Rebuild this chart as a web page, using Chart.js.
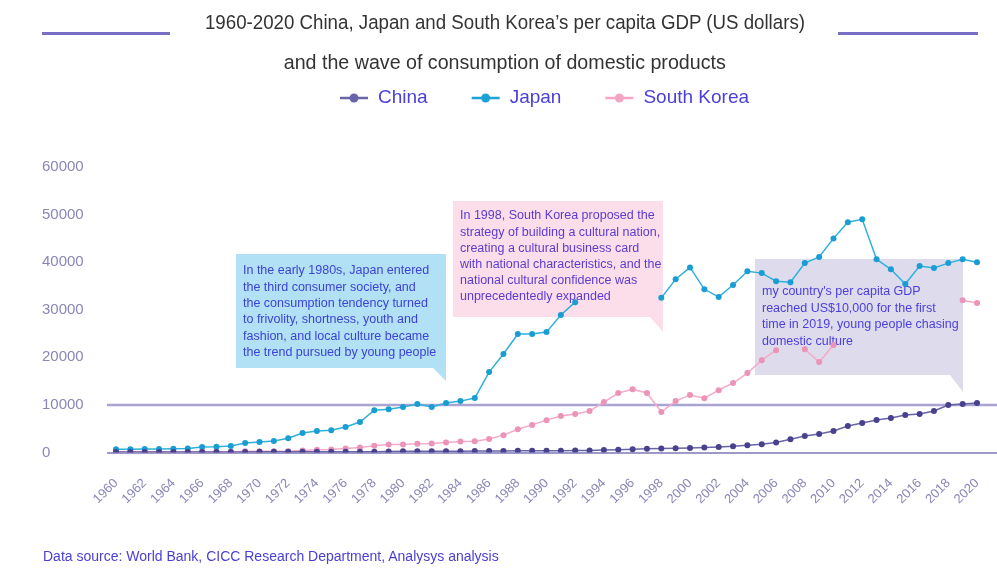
<!DOCTYPE html>
<html>
<head>
<meta charset="utf-8">
<script src="https://cdn.jsdelivr.net/npm/chart.js@4.4.0/dist/chart.umd.min.js"></script>
<style>
body{margin:0;background:#fff;}
#page{position:relative;width:997px;height:577px;overflow:hidden;background:#fff;}
#gdpChart{position:absolute;left:0;top:0;}
.title{position:absolute;left:0;width:1010px;text-align:center;color:#333;
  font-family:"Liberation Sans",Arial,sans-serif;font-size:20.5px;}
.title span{display:inline-block;white-space:nowrap;transform-origin:50% 50%;}
.bar{position:absolute;top:32px;height:3px;background:#7a6fc6;}
#source{position:absolute;left:43px;top:548px;color:#4a3fd4;font-family:"Liberation Sans",Arial,sans-serif;font-size:14px;}
</style>
</head>
<body>
<div id="page">
  <canvas id="gdpChart" width="997" height="577"></canvas>
  <div class="bar" style="left:42px;width:128px"></div>
  <div class="bar" style="left:838px;width:140px"></div>
  <div class="title" style="top:10px"><span data-w="600">1960-2020 China, Japan and South Korea’s per capita GDP (US dollars)</span></div>
  <div class="title" style="top:50px"><span data-w="442">and the wave of consumption of domestic products</span></div>
  <div id="source">Data source: World Bank, CICC Research Department, Analysys analysis</div>
</div>
<script>
// per capita GDP, US dollars (null = hidden behind a note box)
const years = ['1960','1961','1962','1963','1964','1965','1966','1967','1968','1969',
  '1970','1971','1972','1973','1974','1975','1976','1977','1978','1979',
  '1980','1981','1982','1983','1984','1985','1986','1987','1988','1989',
  '1990','1991','1992','1993','1994','1995','1996','1997','1998','1999',
  '2000','2001','2002','2003','2004','2005','2006','2007','2008','2009',
  '2010','2011','2012','2013','2014','2015','2016','2017','2018','2019','2020']

const china = [100,100,100,100,100,100,100,100,100,100,
  150,150,150,150,150,150,150,150,150,200,
  250,250,250,250,250,300,300,300,350,350,
  350,350,400,400,500,600,700,780,830,870,
  960,1050,1150,1290,1500,1750,2100,2800,3470,3890,
  4520,5570,6200,6830,7250,7880,8090,8720,9980,10190,10400]

const japan = [700,700,750,750,800,850,1150,1200,1350,2000,
  2200,2400,3000,4100,4500,4700,5350,6400,8900,9100,
  9550,10200,9550,10400,10800,11450,16900,20700,24900,24900,
  25300,28900,31600,null,null,null,null,null,32500,36400,
  38900,34300,32700,35200,38100,37700,36000,35800,39800,41100,
  45000,48400,49000,40600,38500,35400,39200,38800,39800,40600,40000]

const korea = [150,150,150,150,150,150,150,150,150,250,
  250,250,250,400,560,620,830,1050,1400,1700,
  1700,1850,1900,2100,2300,2350,2850,3650,4900,5800,
  6800,7650,8100,8700,10600,12500,13300,12500,8500,10800,
  12100,11400,13100,14600,16700,19400,21500,null,21700,19000,
  22600,null,null,null,null,null,null,null,null,32000,31400]

const yTicks = [0,10000,20000,30000,40000,50000,60000]

const noteJapan = ['In the early 1980s, Japan entered','the third consumer society, and',
  'the consumption tendency turned','to frivolity, shortness, youth and',
  'fashion, and local culture became','the trend pursued by young people']
const noteKorea = ['In 1998, South Korea proposed the','strategy of building a cultural nation,',
  'creating a cultural business card','with national characteristics, and the',
  'national cultural confidence was','unprecedentedly expanded']
const noteChina = ["my country's per capita GDP",'reached US$10,000 for the first',
  'time in 2019, young people chasing','domestic culture']

const axisColor = '#8a86b8'

// squeeze the title lines to a condensed look
document.querySelectorAll('.title span').forEach(s => {
  const w = s.getBoundingClientRect().width
  s.style.transform = 'scaleX(' + (Number(s.dataset.w) / w) + ')'
})

// callout boxes + the two horizontal rules, drawn under the lines
const notesPlugin = {
  id: 'notes',
  beforeDatasetsDraw(chart) {
    const ctx = chart.ctx
    const y = chart.scales.y
    const box = (x, top, w, h, tailW, tailH, fill, color, lines, size, first, lh) => {
      ctx.fillStyle = fill
      ctx.beginPath()
      ctx.moveTo(x, top)
      ctx.lineTo(x + w, top)
      ctx.lineTo(x + w, top + h + tailH)
      ctx.lineTo(x + w - tailW, top + h)
      ctx.lineTo(x, top + h)
      ctx.closePath()
      ctx.fill()
      ctx.fillStyle = color
      ctx.font = size + 'px "Liberation Sans", Arial, sans-serif'
      ctx.textBaseline = 'middle'
      ctx.textAlign = 'left'
      lines.forEach((t, i) => ctx.fillText(t, x + 7, top + first + i * lh))
    }
    ctx.save()
    box(236, 254, 210, 114, 13, 13, '#b2e1f5', '#3c42d6', noteJapan, 12.5, 17, 16.3)
    box(453, 201, 210, 116, 13, 15, '#fbdeea', '#5a3cd0', noteKorea, 12.5, 15, 16.2)
    box(755, 259, 208, 116, 13, 17, '#dedcec', '#4a3ede', noteChina, 12.5, 33, 16.4)

    ctx.lineWidth = 2.5
    ctx.strokeStyle = '#aaa4d3'
    ctx.beginPath()
    ctx.moveTo(107, y.getPixelForValue(10000))
    ctx.lineTo(997, y.getPixelForValue(10000))
    ctx.stroke()
    ctx.lineWidth = 1.5
    ctx.strokeStyle = '#7d78b9'
    ctx.beginPath()
    ctx.moveTo(107, y.getPixelForValue(0) + 0.5)
    ctx.lineTo(997, y.getPixelForValue(0) + 0.5)
    ctx.stroke()
    ctx.restore()
  }
}

// legend row under the title
const legendPlugin = {
  id: 'rowLegend',
  afterDraw(chart) {
    const ctx = chart.ctx
    ctx.save()
    ctx.font = '19px "Liberation Sans", Arial, sans-serif'
    ctx.textBaseline = 'middle'
    let x = 340
    const cy = 98
    chart.data.datasets.forEach(ds => {
      ctx.strokeStyle = ds.legendColor
      ctx.lineWidth = 2.5
      ctx.beginPath()
      ctx.moveTo(x, cy)
      ctx.lineTo(x + 28, cy)
      ctx.stroke()
      ctx.fillStyle = ds.legendColor
      ctx.beginPath()
      ctx.arc(x + 14, cy, 4.5, 0, Math.PI * 2)
      ctx.fill()
      ctx.fillStyle = '#4a3fd8'
      ctx.fillText(ds.label, x + 38, cy)
      x += 38 + ctx.measureText(ds.label).width + 44
    })
    ctx.restore()
  }
}

const ctx = document.getElementById('gdpChart').getContext('2d')
const gdpChart = new Chart(ctx, {
  type: 'line',
  data: {
    labels: years,
    datasets: [{
      label: 'China',
      data: china,
      borderColor: '#6a64a8',
      backgroundColor: '#48418e',
      legendColor: '#6a64a8',
      borderWidth: 1.5,
      pointRadius: 3,
      pointBorderWidth: 0,
      tension: 0
    }, {
      label: 'Japan',
      data: japan,
      borderColor: '#2fb0dc',
      backgroundColor: '#1a9dd3',
      legendColor: '#1ba3d6',
      borderWidth: 1.5,
      pointRadius: 3,
      pointBorderWidth: 0,
      tension: 0
    }, {
      label: 'South Korea',
      data: korea,
      borderColor: '#f4aac8',
      backgroundColor: '#ec93b8',
      legendColor: '#f2a6c4',
      borderWidth: 1.5,
      pointRadius: 3,
      pointBorderWidth: 0,
      tension: 0
    }]
  },
  options: {
    responsive: false,
    animation: false,
    layout: { padding: { left: 42, right: 20, top: 167, bottom: 64.5 } },
    plugins: { legend: { display: false }, tooltip: { enabled: false } },
    scales: {
      x: {
        offset: false,
        grid: { display: false },
        border: { display: false },
        ticks: {
          autoSkip: false,
          minRotation: 45,
          maxRotation: 45,
          padding: 15,
          color: axisColor,
          font: { size: 13, family: '"Liberation Sans", Arial, sans-serif' },
          callback: (v, i) => (i % 2 === 0 ? years[i] : '')
        },
        afterFit: s => {
          s.height = 60
          s.paddingLeft = 0
          s.paddingRight = 0
        }
      },
      y: {
        min: 0,
        max: 60000,
        afterBuildTicks: s => { s.ticks = yTicks.map(v => ({ value: v })) },
        grid: { display: false },
        border: { display: false },
        ticks: {
          crossAlign: 'far',
          color: axisColor,
          font: { size: 15, family: '"Liberation Sans", Arial, sans-serif' },
          callback: v => String(v)
        },
        afterFit: s => { s.width = 74 }
      }
    }
  },
  plugins: [notesPlugin, legendPlugin]
})
</script>
</body>
</html>
